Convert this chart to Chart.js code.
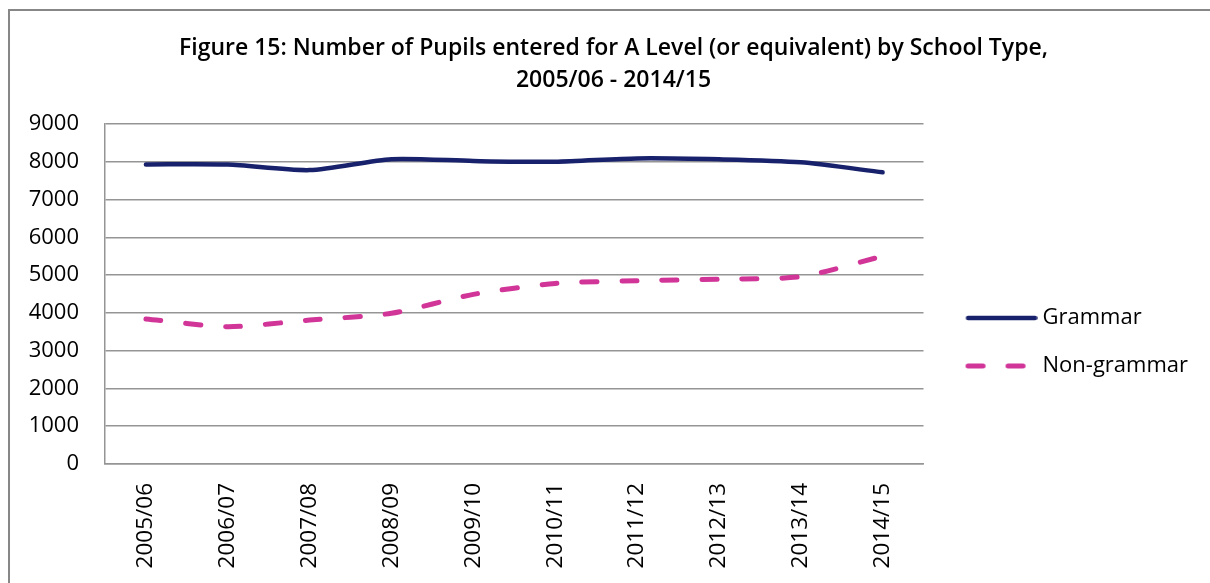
<!DOCTYPE html>
<html>
<head>
<meta charset="utf-8">
<script src="https://cdn.jsdelivr.net/npm/chart.js@4.4.1/dist/chart.umd.min.js"></script>
<style>
  html, body { margin: 0; padding: 0; background: #fff; }
  #wrap { position: relative; width: 1210px; height: 583px; overflow: hidden; }
  #c { position: absolute; left: 0; top: 0; }
  #frame { position: absolute; left: 8px; top: 9px; width: 1210px; height: 600px;
           border-top: 2px solid #878787; border-left: 2px solid #878787; pointer-events: none; }
</style>
</head>
<body>
<div id="wrap">
  <canvas id="c" width="1210" height="583"></canvas>
  <div id="frame"></div>
</div>
<script>
const titleLines = [
  'Figure 15: Number of Pupils entered for A Level (or equivalent) by School Type,',
  '2005/06 - 2014/15'
];
const categories = ['2005/06', '2006/07', '2007/08', '2008/09', '2009/10',
                    '2010/11', '2011/12', '2012/13', '2013/14', '2014/15'];
const seriesNames = ['Grammar', 'Non-grammar'];
const grammar    = [7930, 7925, 7780, 8070, 8020, 8000, 8090, 8065, 7985, 7720];
const nonGrammar = [3840, 3635, 3810, 3990, 4490, 4780, 4850, 4890, 4960, 5500];
const yTicks = [0, 1000, 2000, 3000, 4000, 5000, 6000, 7000, 8000, 9000];

const FONT = "'Open Sans', 'Noto Sans', sans-serif";
const GRID = '#959595';

function legendSwatch(color, width, dash) {
  const cv = document.createElement('canvas');
  cv.width = 94; cv.height = 12;
  const g = cv.getContext('2d');
  g.strokeStyle = color;
  g.lineWidth = width;
  g.lineCap = 'round';
  g.setLineDash(dash);
  g.beginPath();
  g.moveTo(24.5, 6);
  g.lineTo(91.5, 6);
  g.stroke();
  return cv;
}

new Chart(document.getElementById('c'), {
  type: 'line',
  data: {
    labels: categories,
    datasets: [
      { label: seriesNames[0], data: grammar, borderColor: '#18216b', backgroundColor: '#18216b',
        borderWidth: 4.5, pointRadius: 0, tension: 0.25, borderCapStyle: 'round', borderJoinStyle: 'round' },
      { label: seriesNames[1], data: nonGrammar, borderColor: '#d13597', backgroundColor: '#d13597',
        borderWidth: 5, pointRadius: 0, tension: 0.25, borderDash: [15, 25], borderCapStyle: 'round', borderJoinStyle: 'round' }
    ]
  },
  options: {
    responsive: false,
    animation: false,
    devicePixelRatio: 1,
    layout: { padding: { left: 29, right: 12, top: 0, bottom: 0 } },
    plugins: {
      tooltip: { enabled: false },
      title: {
        display: true,
        text: titleLines,
        color: '#000',
        font: { family: FONT, size: 23, weight: '600', lineHeight: 32 / 23 },
        padding: { top: 32, bottom: 28 }
      },
      legend: {
        display: true,
        position: 'right',
        align: 'center',
        title: { display: true, text: '', font: { family: FONT, size: 22 }, padding: { top: 74.6, bottom: 0 } },
        labels: {
          color: '#000',
          font: { family: FONT, size: 22 },
          usePointStyle: true,
          pointStyleWidth: 82,
          padding: 26,
          generateLabels(chart) {
            const items = Chart.defaults.plugins.legend.labels.generateLabels(chart);
            items.forEach(it => {
              const ds = chart.data.datasets[it.datasetIndex];
              it.pointStyle = legendSwatch(ds.borderColor, ds.borderWidth, ds.borderDash || []);
            });
            return items;
          }
        }
      }
    },
    scales: {
      x: {
        offset: true,
        grid: { display: false, drawTicks: false },
        border: { display: true, color: GRID, width: 1.5 },
        ticks: { color: '#000', font: { family: FONT, size: 22.5 }, minRotation: 90, maxRotation: 90,
                 autoSkip: false, padding: 19 },
        afterFit(s) { s.height = 119; }
      },
      y: {
        min: 0, max: 9000,
        afterBuildTicks(s) { s.ticks = yTicks.map(v => ({ value: v })); },
        grid: { color: GRID, lineWidth: 1.5, drawTicks: false },
        border: { display: true, color: GRID, width: 1.5 },
        ticks: { color: '#000', font: { family: FONT, size: 22 }, padding: 26,
                 callback: v => String(v) },
        afterFit(s) { s.width = 76; }
      }
    }
  }
});
</script>
</body>
</html>
